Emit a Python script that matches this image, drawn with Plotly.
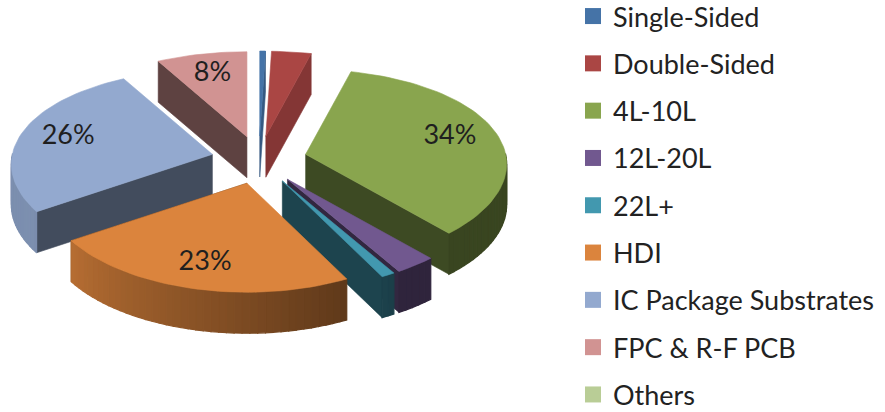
import math
import plotly.graph_objects as go

categories = ["Single-Sided", "Double-Sided", "4L-10L", "12L-20L", "22L+", "HDI",
              "IC Package Substrates", "FPC & R-F PCB", "Others"]
values = [0.5, 3.5, 34, 3, 1, 23, 26, 8, 0]
colors = ["#4573a7", "#aa4644", "#89a54e", "#71588f", "#4298af", "#db843d",
          "#93a9cf", "#d19392", "#b9cd96"]
labels = ["", "", "34%", "", "", "23%", "26%", "8%", ""]
draw_order = [7, 1, 0, 6, 2, 3, 4, 5]

CX, CY, EXPLODE, DEPTH = 259, 160, 48, 41
FONT = "Lato"


def shade(hex_color, f):
    r, g, b = [int(hex_color[i:i + 2], 16) for i in (1, 3, 5)]
    return f"rgb({int(r * f)},{int(g * f)},{int(b * f)})"


def rim(a_deg):
    a = math.radians(a_deg)
    c, s = math.cos(a), math.sin(a)
    return (200 - 20 * c) * s, -(97 - 12 * c) * c


total = sum(values)
starts, ends = [], []
run = 0
for v in values:
    starts.append(run / total * 360)
    run += v
    ends.append(run / total * 360)

fig = go.Figure()


def poly(pts, color, width=0.6):
    fig.add_trace(go.Scatter(
        x=[p[0] for p in pts] + [pts[0][0]], y=[p[1] for p in pts] + [pts[0][1]],
        mode="lines", fill="toself", fillcolor=color, line=dict(color=color, width=width),
        hoverinfo="skip", showlegend=False))


def down(p):
    return (p[0], p[1] + DEPTH)


for i in draw_order:
    a0, a1 = starts[i], ends[i]
    mid = math.radians((a0 + a1) / 2)
    ax = CX + EXPLODE * math.sin(mid)
    ay = CY - EXPLODE * 0.5 * math.cos(mid)
    n = max(2, int((a1 - a0) / 2))
    angs = [a0 + (a1 - a0) * k / n for k in range(n + 1)]
    arc = [(ax + rim(a)[0], ay + rim(a)[1]) for a in angs]

    # the cut face turned towards the viewer: the end face on the right half,
    # the start face on the left half
    if a0 > 180:
        edge, a = arc[0], a0
    else:
        edge, a = arc[-1], a1
    poly([(ax, ay), edge, down(edge), down((ax, ay))], shade(colors[i], 0.78 if a < 90 else 0.45))

    # outer rim, front-facing part only
    for k in range(n):
        p, q = arc[k], arc[k + 1]
        am = (angs[k] + angs[k + 1]) / 2
        if 90 <= am <= 270:
            f = min(0.85, max(0.42, 0.42 + (am - 150) / 90 * 0.43))
            poly([p, q, down(q), down(p)], shade(colors[i], f), width=1.2)

    # top surface
    poly([(ax, ay)] + arc, colors[i])

    # data label
    if labels[i]:
        rx, ry = rim((a0 + a1) / 2)
        fig.add_trace(go.Scatter(
            x=[ax + 0.76 * rx], y=[ay + 0.76 * ry], mode="text", text=[labels[i]],
            textfont=dict(family=FONT, size=27, color="#1f1f1f"),
            hoverinfo="skip", showlegend=False))

for i, name in enumerate(categories):
    fig.add_trace(go.Scatter(
        x=[None], y=[None], mode="markers", name=name, legendgroup=name,
        marker=dict(symbol="square", size=17, color=colors[i]),
        legendrank=i + 1))

fig.update_layout(
    width=885, height=412, margin=dict(l=0, r=0, t=0, b=0, autoexpand=False),
    paper_bgcolor="white", plot_bgcolor="white",
    xaxis=dict(range=[0, 885], visible=False, fixedrange=True),
    yaxis=dict(range=[412, 0], visible=False, fixedrange=True),
    legend=dict(x=573 / 885, y=1.0194, xanchor="left", yanchor="top",
                font=dict(family=FONT, size=27, color="#222222"),
                tracegroupgap=9.2, bgcolor="rgba(0,0,0,0)", itemclick=False,
                itemdoubleclick=False, maxheight=1000),
)
fig.write_html("out.html", config={"displayModeBar": False},
               post_script="document.body.style.margin='0';")
